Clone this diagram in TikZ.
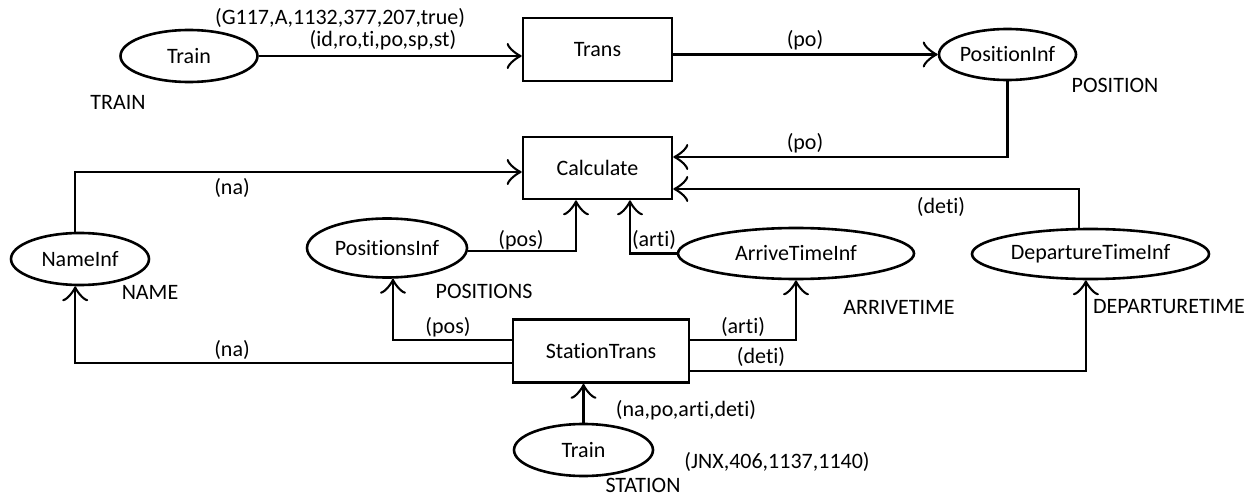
\documentclass[tikz,border=0pt]{standalone}
\usepackage{fontspec}
\setmainfont{Carlito}[RawFeature={-liga;-clig;-dlig}]
\usetikzlibrary{arrows.meta,shapes.geometric}
\begin{document}
\begin{tikzpicture}[x=1pt,y=-1pt,
  font=\fontsize{22}{26}\selectfont,
  line width=2.6pt,
  place/.style={ellipse,draw,inner sep=0pt,line width=2.6pt},
  trbox/.style={rectangle,draw,inner sep=0pt,line width=2.6pt},
  lbl/.style={inner sep=0pt},
  arc/.style={-{Classical TikZ Rightarrow[length=15pt,width=26pt]},line width=2.6pt}]
\useasboundingbox (0,0) rectangle (1257,497);
% places and transitions
\node[place,minimum width=137pt,minimum height=52pt] (train1) at (189,56) {Train};
\node[trbox,minimum width=149pt,minimum height=63pt] (trans) at (597.5,49.5) {Trans};
\node[place,minimum width=137pt,minimum height=51pt] (posinf) at (1007.5,54.5) {PositionInf};
\node[trbox,minimum width=149pt,minimum height=62pt] (calc) at (597.5,168) {Calculate};
\node[place,minimum width=138pt,minimum height=52pt] (nameinf) at (80,259) {NameInf};
\node[place,minimum width=160pt,minimum height=59pt] (possinf) at (387,248) {PositionsInf};
\node[place,minimum width=236pt,minimum height=51pt] (arrinf) at (796,253.5) {ArriveTimeInf};
\node[place,minimum width=237pt,minimum height=50pt] (depinf) at (1090.5,254) {DepartureTimeInf};
\node[trbox,minimum width=176pt,minimum height=63pt] (sttrans) at (601,351) {StationTrans};
\node[place,minimum width=139pt,minimum height=52pt] (train2) at (583.5,450) {Train};
% connectors
\draw[arc] (train1.east) -- (train1.east -| trans.west);
\draw[arc] (trans.east |- posinf.west) -- (posinf.west);
\draw[arc] (posinf.south) |- ([yshift=11pt]calc.east);
\draw[arc] (depinf.114) |- ([yshift=-21pt]calc.east);
\draw[arc] (nameinf.100) |- ([yshift=-4pt]calc.west);
\draw[arc] ([yshift=-3pt]possinf.east) -| ([xshift=-21.5pt]calc.south);
\draw[arc] (arrinf.west) -| ([xshift=32.5pt]calc.south);
\draw[arc] ([yshift=11pt]sttrans.west) -| (possinf.281);
\draw[arc] ([yshift=-12pt]sttrans.west) -| (nameinf.260);
\draw[arc] ([yshift=11pt]sttrans.east) -| (arrinf.south);
\draw[arc] ([yshift=-20pt]sttrans.east) -| (depinf.260);
\draw[arc] (train2.north) -- (train2.north |- sttrans.south);
% labels
\node[lbl] (l1) at (340,18) {(G117,A,1132,377,207,true)};
\node[lbl] (l2) at (383,40) {(id,ro,ti,po,sp,st)};
\node[lbl] (l3) at (118,102) {TRAIN};
\node[lbl] (l4) at (805,40) {(po)};
\node[lbl] (l5) at (1115,85) {POSITION};
\node[lbl] (l6) at (805,143) {(po)};
\node[lbl] (l7) at (232,188) {(na)};
\node[lbl] (l8) at (941,207) {(deti)};
\node[lbl] (l9) at (521,240) {(pos)};
\node[lbl] (l10) at (654,240) {(arti)};
\node[lbl] (l11) at (150,292) {NAME};
\node[lbl] (l12) at (484,291) {POSITIONS};
\node[lbl] (l13) at (899,307) {ARRIVETIME};
\node[lbl] (l14) at (1169,307) {DEPARTURETIME};
\node[lbl] (l15) at (448,327) {(pos)};
\node[lbl] (l16) at (743,327) {(arti)};
\node[lbl] (l17) at (761,357) {(deti)};
\node[lbl] (l18) at (232,350) {(na)};
\node[lbl] (l19) at (686,410) {(na,po,arti,deti)};
\node[lbl] (l20) at (777,462) {(JNX,406,1137,1140)};
\node[lbl] (l21) at (643,485) {STATION};
\end{tikzpicture}
\end{document}
